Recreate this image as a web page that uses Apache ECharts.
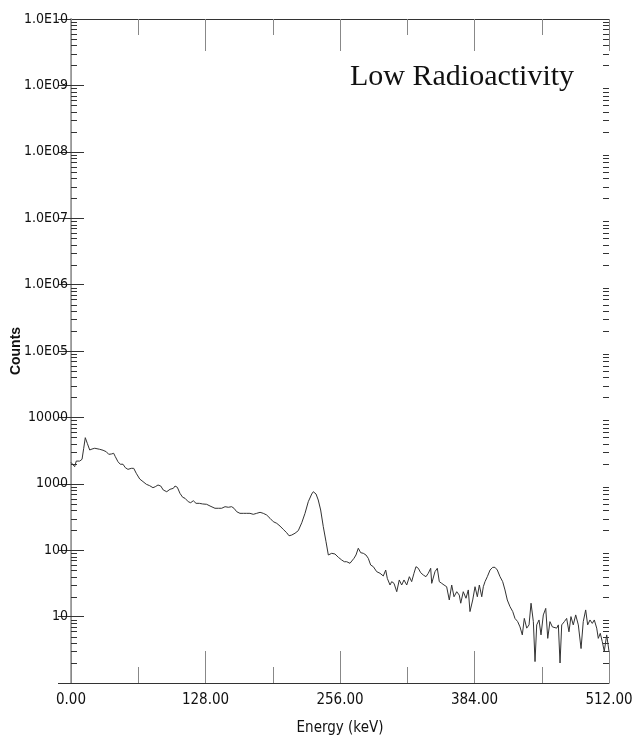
<!DOCTYPE html>
<html>
<head>
<meta charset="utf-8">
<title>Low Radioactivity</title>
<script src="https://cdn.jsdelivr.net/npm/echarts@6.0.0/dist/echarts.min.js"></script>
<style>
  html, body { margin: 0; padding: 0; background: #fff; }
  #chart { width: 639px; height: 742px; }
</style>
</head>
<body>
<div id="chart"></div>
<script>
// 能谱数据 (keV, counts)
const energy = [0, 1.0, 3.5, 5.0, 8.3, 10.5, 12.1, 13.6, 15.5, 17.8,
  20.0, 22.6, 24.1, 27.3, 30.5, 33.6, 35.9, 38.4, 40.6, 42.2,
  44.7, 46.9, 49.5, 51.7, 54.2, 57.4, 59.7, 62.1, 65.4, 68.5,
  71.7, 74.9, 78.0, 80.2, 82.8, 85.4, 87.8, 91.1, 94.2, 97.4,
  99.0, 101.2, 103.7, 106.3, 108.5, 111.6, 113.9, 116.4, 119.0, 122.1,
  125.3, 129.1, 132.3, 133.9, 137.0, 140.2, 143.4, 146.6, 149.7, 152.9,
  155.1, 157.7, 160.8, 164.0, 167.2, 170.3, 173.5, 176.7, 179.9, 183.0,
  186.2, 189.4, 192.5, 195.8, 198.9, 202.0, 205.3, 207.5, 210.0, 213.2,
  216.3, 219.6, 222.7, 225.8, 229.1, 230.6, 233.2, 235.3, 237.6, 240.1,
  242.7, 244.9, 248.1, 251.2, 254.4, 257.6, 260.1, 262.4, 265.5, 267.1,
  269.3, 271.2, 273.4, 275.7, 278.2, 280.7, 282.9, 285.2, 287.7, 290.9,
  294.1, 297.2, 299.5, 301.0, 303.6, 305.2, 307.4, 310.0, 312.4, 314.7,
  316.9, 319.5, 322.0, 324.2, 326.4, 328.3, 330.5, 332.8, 335.3, 337.8,
  340.0, 342.3, 343.3, 346.4, 348.6, 350.5, 352.8, 355.0, 357.5, 360.0,
  362.3, 364.5, 367.1, 369.5, 370.9, 373.3, 375.9, 378.1, 379.7, 382.3,
  384.5, 386.7, 388.6, 390.9, 392.4, 394.0, 396.2, 398.8, 401.3, 403.5,
  405.7, 408.3, 410.8, 413.0, 415.2, 417.8, 420.4, 422.5, 425.1, 427.3,
  429.5, 431.4, 433.7, 435.9, 437.8, 440.0, 441.6, 443.2, 445.4, 447.3,
  449.5, 451.8, 453.7, 455.8, 458.1, 460.0, 462.2, 463.8, 465.4, 467.0,
  469.5, 471.7, 473.9, 475.8, 478.0, 480.3, 482.8, 485.4, 487.5, 489.8,
  491.7, 493.9, 496.1, 498.0, 500.3, 501.8, 503.7, 505.6, 507.5, 509.8, 512]

const counts = [2100, 2040, 1810, 2200, 2200, 2340, 3430, 4950, 4070, 3230,
  3340, 3430, 3500, 3310, 3200, 3040, 2780, 2810, 2880, 2560,
  2150, 1970, 1970, 1750, 1650, 1710, 1710, 1440, 1180, 1080,
  983, 936, 874, 904, 959, 926, 807, 760, 826, 855,
  926, 886, 719, 626, 605, 537, 519, 556, 508, 508,
  497, 491, 463, 443, 428, 428, 428, 452, 443, 452,
  428, 380, 359, 359, 359, 359, 347, 359, 372, 359,
  339, 302, 269, 254, 231, 206, 183, 165, 169, 180,
  197, 259, 359, 537, 702, 760, 702, 570, 403, 226,
  134, 84.7, 89.8, 87.7, 78.2, 71.2, 67.1, 67.1, 63.5, 59.8,
  75.5, 84.7, 107, 91.7, 89.8, 84.7, 75.5, 59.8, 56.5, 47.5,
  44.9, 40.9, 50.3, 37.7, 29.9, 33.6, 31.7, 23.7, 35.6, 29.9,
  35.6, 29.9, 39.9, 33.6, 44.9, 56.5, 53.4, 45.8, 42.3, 39.9,
  44.9, 53.4, 31.7, 47.5, 53.4, 33.6, 31.7, 29.9, 28.2, 17.8,
  29.9, 19.9, 23.7, 21.1, 15.9, 23.7, 18.9, 25.2, 11.9, 17.8,
  28.2, 19.9, 29.9, 19.9, 28.2, 33.6, 39.9, 50.3, 55.2, 55.2,
  50.3, 39.9, 33.6, 25.2, 17.8, 14.1, 11.9, 9.4, 8.4, 7.0,
  5.3, 9.4, 6.7, 7.5, 15.9, 8.4, 2.1, 7.5, 8.9, 5.3,
  10.6, 13.3, 4.7, 8.4, 7.0, 7.5, 6.7, 7.5, 2.0, 7.5,
  8.4, 9.4, 5.9, 10.0, 7.5, 10.6, 7.5, 3.3, 8.4, 12.6,
  7.5, 8.9, 7.9, 8.9, 6.7, 4.7, 5.6, 4.2, 3.0, 5.3, 3.0]

// 坐标轴范围
const xMin = 0, xMax = 512, xStep = 128
const yMin = 1, yMax = 1e10
// 对数轴的小刻度 (每个数量级内 2..9)
const minorMult = [2, 3, 4, 5, 6, 7, 8, 9]
const decades = [0, 1, 2, 3, 4, 5, 6, 7, 8, 9]

const narrow = "'Liberation Sans Narrow', 'DejaVu Sans Condensed', sans-serif"

let minorTicks = []
decades.forEach(d => minorMult.forEach(m => minorTicks.push([xMin, m * Math.pow(10, d)])))

function yLabel(v) {
  if (v < 2) return ''
  if (v >= 1e5) {
    let e = Math.round(Math.log10(v))
    return '1.0E' + (e < 10 ? '0' : '') + e
  }
  return String(Math.round(v))
}

let chart = echarts.init(document.getElementById('chart'), null, { renderer: 'canvas' })

let option = {
  backgroundColor: '#fff',
  animation: false,
  title: {
    text: 'Low Radioactivity',
    left: 345,
    top: 57,
    textStyle: { fontFamily: "'Liberation Serif', 'DejaVu Serif', serif", fontSize: 30, fontWeight: 'normal', color: '#111' }
  },
  // 不让 echarts 自动收缩绘图区
  grid: { left: 71, right: 30, top: 19, bottom: 59, containLabel: false, outerBoundsMode: 'none' },
  xAxis: [{
    type: 'value', min: xMin, max: xMax, interval: xStep, position: 'bottom',
    name: 'Energy (keV)', nameLocation: 'middle', nameGap: 38, nameMoveOverlap: false,
    nameTextStyle: { fontFamily: narrow, fontSize: 15, color: '#111' },
    axisLine: { lineStyle: { color: '#333', width: 1 } },
    axisTick: { inside: true, length: 32, lineStyle: { color: '#888' } },
    minorTick: { show: true, splitNumber: 2, length: 16, lineStyle: { color: '#888' } },
    splitLine: { show: false },
    axisLabel: { margin: 10, fontFamily: narrow, fontSize: 15, color: '#111', formatter: v => v.toFixed(2) }
  }, {
    type: 'value', min: xMin, max: xMax, interval: xStep, position: 'top',
    axisLine: { lineStyle: { color: '#333', width: 1 } },
    axisTick: { inside: true, length: 32, lineStyle: { color: '#888' } },
    minorTick: { show: true, splitNumber: 2, length: 16, lineStyle: { color: '#888' } },
    splitLine: { show: false },
    axisLabel: { show: false }
  }],
  yAxis: [{
    type: 'log', logBase: 10, min: yMin, max: yMax, interval: 1, splitNumber: 10, position: 'left',
    name: 'Counts', nameLocation: 'middle', nameGap: 48, nameMoveOverlap: false,
    nameTextStyle: { fontFamily: "'Liberation Sans', Arial, sans-serif", fontSize: 14, fontWeight: 'bold', color: '#111' },
    axisLine: { lineStyle: { color: '#aaa', width: 2 } },
    axisTick: { inside: true, length: 13, lineStyle: { color: '#333' } },
    splitLine: { show: false },
    axisLabel: { margin: 3, fontFamily: narrow, fontSize: 14, color: '#111', formatter: yLabel }
  }, {
    type: 'log', logBase: 10, min: yMin, max: yMax, interval: 1, splitNumber: 10, position: 'right',
    axisLine: { lineStyle: { color: '#999', width: 1 } },
    axisTick: { inside: true, length: 13, lineStyle: { color: '#333' } },
    splitLine: { show: false },
    axisLabel: { show: false }
  }],
  series: [{
    // 左右两侧的对数小刻度
    type: 'custom',
    xAxisIndex: 0, yAxisIndex: 0,
    silent: true,
    clip: false,
    data: minorTicks,
    renderItem: function (params, api) {
      let v = api.value(1)
      let pl = api.coord([xMin, v])
      let pr = api.coord([xMax, v])
      let y = Math.round(pl[1]) + 0.5
      return {
        type: 'group',
        children: [
          { type: 'line', shape: { x1: pl[0], y1: y, x2: pl[0] + 6, y2: y }, style: { stroke: '#333', lineWidth: 1 } },
          { type: 'line', shape: { x1: pr[0] - 6, y1: y, x2: pr[0], y2: y }, style: { stroke: '#333', lineWidth: 1 } }
        ]
      }
    }
  }, {
    name: 'spectrum',
    type: 'line',
    xAxisIndex: 0, yAxisIndex: 0,
    showSymbol: false,
    symbol: 'none',
    lineStyle: { color: '#333', width: 1 },
    data: energy.map((e, i) => [e, counts[i]])
  }]
}

chart.setOption(option)
</script>
</body>
</html>
